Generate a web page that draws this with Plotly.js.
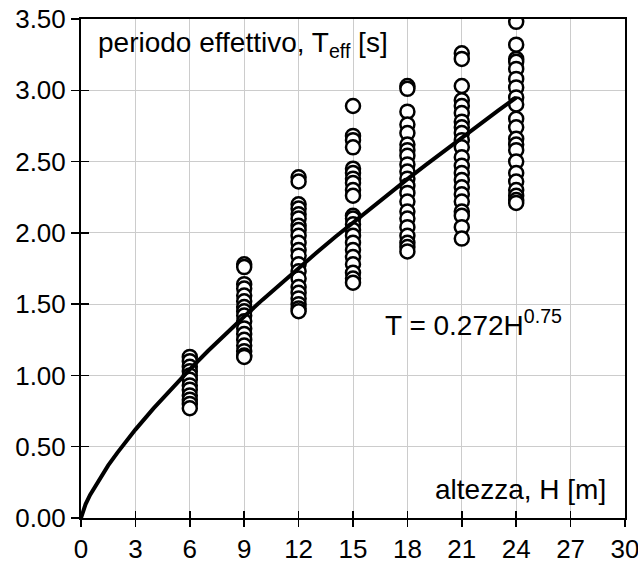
<!DOCTYPE html>
<html>
<head>
<meta charset="utf-8">
<script src="https://cdn.plot.ly/plotly-3.0.1.min.js"></script>
<style>html,body{margin:0;padding:0;background:#fff;}#chart{width:638px;height:573px;}</style>
</head>
<body>
<div id="chart"></div>
<script>
// Observed effective periods by building height
const h6 = [1.13, 1.10, 1.06, 1.03, 1.00, 0.97, 0.93, 0.90, 0.86, 0.83, 0.80, 0.77];
const h9 = [1.78, 1.76, 1.64, 1.61, 1.56, 1.52, 1.48, 1.45, 1.42, 1.38, 1.33, 1.29, 1.25, 1.21, 1.17, 1.14, 1.13];
const h12 = [2.39, 2.36, 2.20, 2.17, 2.13, 2.10, 2.05, 2.02, 1.98, 1.93, 1.88, 1.84, 1.78, 1.73, 1.68, 1.62, 1.58, 1.54, 1.50, 1.47, 1.45];
const h15 = [2.89, 2.68, 2.65, 2.60, 2.45, 2.42, 2.38, 2.35, 2.30, 2.26, 2.12, 2.10, 2.06, 2.02, 1.98, 1.93, 1.88, 1.83, 1.78, 1.72, 1.68, 1.65];
const h18 = [3.03, 3.01, 2.85, 2.76, 2.70, 2.62, 2.58, 2.54, 2.48, 2.43, 2.38, 2.33, 2.28, 2.22, 2.15, 2.10, 2.04, 1.98, 1.93, 1.90, 1.87];
const h21 = [3.26, 3.22, 3.03, 2.93, 2.89, 2.84, 2.78, 2.74, 2.70, 2.65, 2.60, 2.53, 2.47, 2.42, 2.37, 2.32, 2.27, 2.22, 2.15, 2.12, 2.04, 1.96];
const h24 = [3.48, 3.32, 3.22, 3.20, 3.15, 3.08, 3.02, 2.95, 2.90, 2.80, 2.74, 2.66, 2.62, 2.58, 2.50, 2.42, 2.36, 2.30, 2.26, 2.23, 2.21];
const heights = [6, 9, 12, 15, 18, 21, 24];
const groups = [h6, h9, h12, h15, h18, h21, h24];

// Fitted curve T = 0.272 H^0.75 (tabulated)
const curveH = [0, 0.25, 0.5, 1, 1.5, 2, 3, 4, 5, 6, 7, 8, 9, 10, 11, 12, 13, 14, 15, 16, 17, 18, 19, 20, 21, 22, 23, 24];
const curveT = [0, 0.096, 0.162, 0.272, 0.369, 0.457, 0.620, 0.769, 0.910, 1.043, 1.171, 1.294, 1.413, 1.530, 1.643, 1.754, 1.862, 1.969, 2.073, 2.176, 2.277, 2.377, 2.475, 2.572, 2.668, 2.763, 2.857, 2.949];

const xTicks = [0, 3, 6, 9, 12, 15, 18, 21, 24, 27, 30];
const yTicks = [0, 0.5, 1, 1.5, 2, 2.5, 3, 3.5];

const sx = [], sy = [];
groups.forEach((g, i) => g.forEach(v => { sx.push(heights[i]); sy.push(v); }));

const tickFont = {family: 'Liberation Sans, Arial, sans-serif', size: 26, color: '#000'};
const annFont = {family: 'Liberation Sans, Arial, sans-serif', size: 28, color: '#000'};

const data = [
  {x: sx, y: sy, type: 'scatter', mode: 'markers',
   marker: {symbol: 'circle', size: 14, color: '#fff', line: {color: '#000', width: 2.5}}},
  {x: curveH, y: curveT, xaxis: 'x2', yaxis: 'y2', type: 'scatter', mode: 'lines',
   line: {color: '#000', width: 4}}
];

const baseX = {range: [0, 30], tickvals: xTicks, zeroline: false, fixedrange: true};
const baseY = {range: [0, 3.5], tickvals: yTicks, zeroline: false, fixedrange: true};

const layout = {
  width: 638, height: 573,
  margin: {l: 81, r: 13, t: 19, b: 55},
  showlegend: false,
  paper_bgcolor: '#fff', plot_bgcolor: '#fff',
  font: tickFont,
  xaxis: Object.assign({}, baseX, {
    ticktext: xTicks.map(String),
    showgrid: true, gridcolor: '#cccccc', gridwidth: 1,
    showline: true, linecolor: '#000', linewidth: 2, mirror: true,
    ticks: 'outside', ticklen: 7, tickwidth: 1.5, tickcolor: '#000',
    tickfont: tickFont, ticklabeloverflow: 'allow', automargin: false
  }),
  yaxis: Object.assign({}, baseY, {
    ticktext: yTicks.map(v => v.toFixed(2)),
    showgrid: true, gridcolor: '#cccccc', gridwidth: 1,
    showline: true, linecolor: '#000', linewidth: 2, mirror: true,
    ticks: 'outside', ticklen: 8, tickwidth: 1.5, tickcolor: '#000',
    tickfont: tickFont, ticklabeloverflow: 'allow', automargin: false
  }),
  xaxis2: Object.assign({}, baseX, {
    overlaying: 'x', side: 'bottom', anchor: 'y2',
    showgrid: false, showline: false, showticklabels: false,
    ticks: 'inside', ticklen: 7, tickwidth: 1.5, tickcolor: '#000'
  }),
  yaxis2: Object.assign({}, baseY, {
    overlaying: 'y', side: 'left', anchor: 'x2',
    showgrid: false, showline: false, showticklabels: false,
    ticks: 'inside', ticklen: 8, tickwidth: 1.5, tickcolor: '#000'
  }),
  annotations: [
    {xref: 'paper', yref: 'paper', x: 0.027, y: 0.948, xanchor: 'left', yanchor: 'middle',
     text: 'periodo effettivo, T<sub>eff</sub> [s]', showarrow: false, font: annFont},
    {xref: 'paper', yref: 'paper', x: 0.556, y: 0.39, xanchor: 'left', yanchor: 'middle',
     text: 'T = 0.272H<sup>0.75</sup>', showarrow: false, font: annFont},
    {xref: 'paper', yref: 'paper', x: 0.968, y: 0.058, xanchor: 'right', yanchor: 'middle',
     text: 'altezza, H [m]', showarrow: false, font: annFont}
  ]
};

Plotly.newPlot('chart', data, layout, {displayModeBar: false, staticPlot: true});
</script>
</body>
</html>
